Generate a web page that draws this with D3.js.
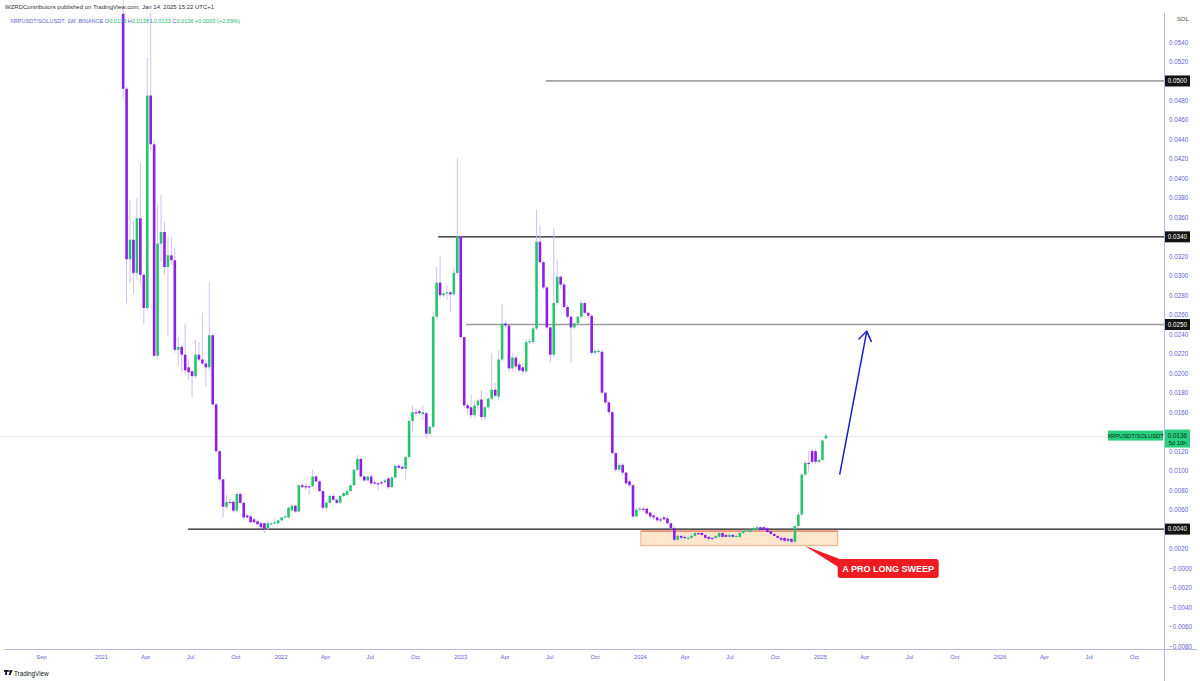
<!DOCTYPE html>
<html><head><meta charset="utf-8">
<script src="https://cdn.jsdelivr.net/npm/d3@7"></script>
<style>body{margin:0;background:#fff;}svg{display:block;font-family:"Liberation Sans",Arial,sans-serif;}</style>
</head><body><svg id="c" width="1200" height="681"></svg>
<script>
// ---- DATA (weekly candles XRPUSDT/SOLUSDT, last bar week of 2025-01-13) ----
const lastBar = "2025-01-13";
const opens = [
.0569,.0492,.0317,.0337,.0303,.0359,.0301,.0267,.0485,.0435,
.0218,.0333,.0345,.0309,.0321,.0316,.0224,.0227,.0219,.0206,
.0202,.0197,.0219,.0214,.0210,.0206,.0239,.0168,.0120,.0091,
.0063,.0068,.0068,.0059,.0076,.0067,.0054,.0053,.0050,.0048,
.0046,.0046,.0041,.0045,.0046,.0046,.0049,.0052,.0052,.0059,
.0064,.0058,.0085,.0084,.0084,.0084,.0094,.0089,.0079,.0062,
.0067,.0074,.0070,.0067,.0074,.0075,.0079,.0085,.0101,.0112,
.0094,.0090,.0094,.0088,.0087,.0088,.0088,.0092,.0083,.0093,
.0105,.0104,.0102,.0114,.0151,.0160,.0161,.0158,.0159,.0138,
.0145,.0258,.0293,.0280,.0282,.0283,.0281,.0303,.0340,.0237,
.0167,.0165,.0157,.0167,.0173,.0155,.0165,.0174,.0183,.0176,
.0214,.0251,.0249,.0205,.0216,.0209,.0206,.0202,.0232,.0232,
.0246,.0335,.0314,.0288,.0247,.0219,.0272,.0299,.0291,.0268,
.0258,.0247,.0251,.0258,.0272,.0262,.0259,.0221,.0222,.0222,
.0180,.0170,.0160,.0118,.0101,.0106,.0098,.0089,.0085,.0053,
.0060,.0061,.0061,.0057,.0054,.0052,.0050,.0052,.0051,.0046,
.0041,.0029,.0033,.0032,.0030,.0031,.0033,.0036,.0036,.0034,
.0032,.0031,.0031,.0032,.0036,.0034,.0032,.0034,.0033,
.0032,.0036,.0038,.0037,.0039,.0039,.0042,.0042,.0041,.0038,
.0035,.0033,.0031,.0031,.0030,.0030,.0027,.0043,.0055,.0096,
.0108,.0120,.0120,.0109,.0111,.0133];
const highs = [
.0586,.0494,.0378,.0357,.0380,.0416,.0303,.0524,.0570,.0440,
.0374,.0383,.0355,.0340,.0340,.0329,.0237,.0229,.0251,.0214,
.0203,.0234,.0232,.0262,.0214,.0293,.0241,.0170,.0121,.0092,
.0075,.0071,.0070,.0078,.0078,.0068,.0056,.0055,.0052,.0050,
.0048,.0047,.0048,.0047,.0051,.0050,.0053,.0055,.0063,.0066,
.0065,.0086,.0087,.0088,.0085,.0101,.0096,.0090,.0080,.0068,
.0075,.0076,.0072,.0075,.0078,.0081,.0086,.0102,.0116,.0113,
.0095,.0095,.0096,.0090,.0089,.0090,.0092,.0094,.0095,.0106,
.0107,.0106,.0115,.0154,.0167,.0164,.0163,.0167,.0161,.0146,
.0263,.0309,.0320,.0284,.0290,.0285,.0308,.0421,.0341,.0238,
.0169,.0178,.0172,.0174,.0183,.0167,.0175,.0221,.0190,.0224,
.0271,.0254,.0250,.0220,.0219,.0212,.0210,.0235,.0236,.0248,
.0368,.0352,.0316,.0290,.0249,.0349,.0316,.0301,.0293,.0270,
.0260,.0252,.0259,.0275,.0274,.0263,.0261,.0225,.0225,.0224,
.0181,.0172,.0162,.0119,.0108,.0108,.0099,.0091,.0086,.0062,
.0063,.0063,.0062,.0058,.0055,.0053,.0052,.0054,.0053,.0047,
.0043,.0034,.0034,.0034,.0033,.0035,.0037,.0037,.0037,.0035,
.0033,.0032,.0034,.0037,.0037,.0035,.0035,.0035,.0034,
.0037,.0039,.0040,.0040,.0042,.0043,.0043,.0043,.0042,.0039,
.0036,.0034,.0032,.0032,.0031,.0031,.0044,.0058,.0098,.0110,
.0120,.0122,.0122,.0112,.0132,.0138];
const lows = [
.0480,.0272,.0293,.0282,.0296,.0291,.0250,.0264,.0429,.0216,
.0215,.0314,.0301,.0239,.0311,.0221,.0208,.0201,.0198,.0193,
.0175,.0195,.0212,.0208,.0186,.0203,.0166,.0118,.0089,.0052,
.0061,.0065,.0057,.0057,.0065,.0050,.0051,.0046,.0046,.0044,
.0041,.0036,.0039,.0044,.0045,.0045,.0048,.0051,.0051,.0058,
.0057,.0057,.0082,.0080,.0075,.0083,.0088,.0078,.0060,.0060,
.0066,.0069,.0066,.0066,.0073,.0074,.0078,.0084,.0100,.0092,
.0088,.0089,.0085,.0085,.0080,.0085,.0087,.0081,.0082,.0092,
.0102,.0101,.0091,.0112,.0140,.0156,.0157,.0152,.0133,.0136,
.0143,.0255,.0277,.0278,.0275,.0263,.0279,.0301,.0235,.0164,
.0158,.0154,.0155,.0162,.0152,.0152,.0163,.0172,.0175,.0172,
.0212,.0246,.0201,.0202,.0204,.0201,.0198,.0200,.0230,.0230,
.0244,.0312,.0286,.0245,.0211,.0216,.0270,.0287,.0267,.0256,
.0211,.0245,.0249,.0256,.0260,.0256,.0219,.0219,.0220,.0178,
.0168,.0158,.0116,.0098,.0099,.0095,.0085,.0083,.0051,.0052,
.0058,.0058,.0055,.0051,.0049,.0047,.0047,.0049,.0044,.0040,
.0027,.0028,.0029,.0029,.0029,.0030,.0032,.0034,.0032,.0030,
.0028,.0029,.0030,.0031,.0031,.0031,.0031,.0031,.0032,
.0031,.0035,.0037,.0036,.0038,.0038,.0038,.0038,.0036,.0034,
.0032,.0030,.0027,.0026,.0026,.0025,.0026,.0041,.0053,.0094,
.0099,.0107,.0107,.0108,.0110,.0133];
const closes = [
.0492,.0317,.0337,.0303,.0359,.0301,.0267,.0485,.0435,.0218,
.0333,.0345,.0309,.0321,.0316,.0224,.0227,.0219,.0203,.0201,
.0197,.0219,.0214,.0210,.0206,.0239,.0168,.0120,.0091,.0063,
.0068,.0067,.0059,.0076,.0067,.0052,.0052,.0047,.0047,.0045,
.0042,.0040,.0046,.0046,.0047,.0049,.0052,.0053,.0062,.0064,
.0058,.0085,.0083,.0083,.0083,.0094,.0089,.0079,.0062,.0067,
.0074,.0070,.0067,.0074,.0077,.0079,.0085,.0101,.0112,.0094,
.0090,.0094,.0087,.0087,.0086,.0087,.0090,.0083,.0093,.0105,
.0103,.0102,.0114,.0151,.0160,.0159,.0159,.0160,.0138,.0145,
.0258,.0293,.0280,.0282,.0283,.0281,.0303,.0340,.0237,.0167,
.0164,.0157,.0167,.0172,.0155,.0165,.0174,.0183,.0177,.0214,
.0251,.0249,.0205,.0216,.0207,.0203,.0202,.0232,.0233,.0246,
.0335,.0314,.0288,.0247,.0219,.0272,.0299,.0291,.0268,.0258,
.0247,.0251,.0258,.0272,.0262,.0259,.0221,.0223,.0223,.0180,
.0170,.0160,.0118,.0101,.0106,.0098,.0087,.0085,.0053,.0060,
.0061,.0060,.0056,.0053,.0052,.0049,.0049,.0050,.0046,.0041,
.0029,.0033,.0031,.0031,.0031,.0033,.0036,.0035,.0034,.0031,
.0030,.0030,.0033,.0036,.0032,.0032,.0034,.0032,.0033,
.0036,.0038,.0039,.0039,.0041,.0042,.0039,.0039,.0037,.0035,
.0033,.0031,.0029,.0028,.0028,.0027,.0043,.0055,.0096,.0108,
.0107,.0109,.0109,.0111,.0131,.0136];

const yTicks = [0.054,0.052,0.050,0.048,0.046,0.044,0.042,0.040,0.038,0.036,0.034,0.032,0.030,0.028,0.026,0.024,0.022,0.020,0.018,0.016,0.014,0.012,0.010,0.008,0.006,0.004,0.002,0,-0.002,-0.004,-0.006,-0.008];
const xTickDates = ["2020-09-01","2021-01-01","2021-04-01","2021-07-01","2021-10-01","2022-01-01","2022-04-01","2022-07-01","2022-10-01","2023-01-01","2023-04-01","2023-07-01","2023-10-01","2024-01-01","2024-04-01","2024-07-01","2024-10-01","2025-01-01","2025-04-01","2025-07-01","2025-10-01","2026-01-01","2026-04-01","2026-07-01","2026-10-01"];
const xTickLabels = ["Sep","2021","Apr","Jul","Oct","2022","Apr","Jul","Oct","2023","Apr","Jul","Oct","2024","Apr","Jul","Oct","2025","Apr","Jul","Oct","2026","Apr","Jul","Oct"];

// horizontal levels drawn on chart
const levelPrices = [0.0500, 0.0340, 0.0250, 0.0040];
const levelStarts = ["2023-06-24","2022-11-17","2023-01-13","2021-06-27"];
const lastPrice = 0.0136;
const zoneDates = ["2024-01-03","2025-02-06"];
const zonePrices = [0.0038, 0.0023];
const arrowDates = ["2025-02-10","2025-04-06"];
const arrowPrices = [0.0096, 0.0243];
const calloutTip = {date:"2024-12-01", price:0.0023};
const calloutBox = {date:"2025-02-06", price:0.00093};
const calloutText = "A PRO LONG SWEEP";

// ---- DRAWING ----
const svg = d3.select("#c");
const pd = s => { const [a,b,c]=s.split("-").map(Number); return new Date(a,b-1,c); };
const x = d3.scaleTime().domain([pd("2021-01-01"), pd("2025-01-01")]).range([101, 820]);
const y = d3.scaleLinear().domain([0.054, -0.008]).range([42, 646]);
const n = opens.length;
const last = pd(lastBar);
const dates = d3.range(n).map(i => d3.timeDay.offset(last, -(n-1-i)*7));

const PURPLE = "#8c1ee6", GREEN = "#25c46e", WICK = "#cbb8f0";
const AXC = "#5f5fd2", AXLINE = "#b9b9ea";
const plotR = 1164;

// last price faint line
svg.append("line").attr("x1",0).attr("x2",plotR).attr("y1",Math.round(y(lastPrice))+0.5).attr("y2",Math.round(y(lastPrice))+0.5)
  .attr("stroke","#e4e4ea").attr("stroke-width",1);

// levels
const lvlColor = ["#5a5a5a","#1a1a1a","#9a9a9a","#1a1a1a"];
const lvlW = [1,1.2,1.5,1.2];
levelPrices.forEach((p,i)=>{
  svg.append("line").attr("x1",x(pd(levelStarts[i]))).attr("x2",plotR)
    .attr("y1",y(p)).attr("y2",y(p)).attr("stroke",lvlColor[i]).attr("stroke-width",lvlW[i]);
});

// zone box
const zx0 = x(pd(zoneDates[0])), zx1 = x(pd(zoneDates[1]));
svg.append("rect").attr("x",zx0).attr("y",y(zonePrices[0])).attr("width",zx1-zx0).attr("height",y(zonePrices[1])-y(zonePrices[0]))
  .attr("fill","#fde2c3").attr("fill-opacity",0.85).attr("stroke","#f0aa82").attr("stroke-width",1);
svg.append("line").attr("x1",zx0).attr("x2",zx1).attr("y1",y(zonePrices[0])).attr("y2",y(zonePrices[0]))
  .attr("stroke","#e06a5a").attr("stroke-width",1);

// candles
const cg = svg.append("g");
const bw = 2.6;
cg.selectAll("line").data(d3.range(n)).join("line")
  .attr("x1",i=>x(dates[i])).attr("x2",i=>x(dates[i]))
  .attr("y1",i=>y(highs[i])).attr("y2",i=>y(lows[i]))
  .attr("stroke",WICK).attr("stroke-width",0.9);
cg.selectAll("rect").data(d3.range(n)).join("rect")
  .attr("x",i=>x(dates[i])-bw/2)
  .attr("y",i=>y(Math.max(opens[i],closes[i])))
  .attr("width",bw)
  .attr("height",i=>Math.max(1.2,Math.abs(y(opens[i])-y(closes[i]))))
  .attr("fill",i=>closes[i]>=opens[i]?GREEN:PURPLE);

// arrow
const ax0=x(pd(arrowDates[0])), ay0=y(arrowPrices[0]), ax1=x(pd(arrowDates[1])), ay1=y(arrowPrices[1]);
const BLUE="#1d1dc9";
svg.append("line").attr("x1",ax0).attr("y1",ay0).attr("x2",ax1).attr("y2",ay1).attr("stroke",BLUE).attr("stroke-width",1.5);
{
  const dx=ax0-ax1, dy=ay0-ay1, L=Math.hypot(dx,dy), ux=dx/L, uy=dy/L, th=35*Math.PI/180, len=11;
  [th,-th].forEach(t=>{
    const rx=ux*Math.cos(t)-uy*Math.sin(t), ry=ux*Math.sin(t)+uy*Math.cos(t);
    svg.append("line").attr("x1",ax1).attr("y1",ay1).attr("x2",ax1+rx*len).attr("y2",ay1+ry*len)
      .attr("stroke",BLUE).attr("stroke-width",1.5).attr("stroke-linecap","round");
  });
}

// callout
const RED="#ef1b22";
const bx=x(pd(calloutBox.date)), by=y(calloutBox.price), bwid=101, bh=19;
const tx=x(pd(calloutTip.date)), ty=y(calloutTip.price);
svg.append("path").attr("d",`M${tx},${ty}L${bx+2},${by}L${bx+2},${by+9}Z`).attr("fill",RED);
svg.append("rect").attr("x",bx).attr("y",by).attr("width",bwid).attr("height",bh).attr("rx",3).attr("fill",RED);
svg.append("text").attr("x",bx+bwid/2).attr("y",by+bh/2+3.2).attr("text-anchor","middle")
  .attr("fill","#fff").attr("font-size",9).attr("font-weight","bold").text(calloutText);

// axes lines
svg.append("line").attr("x1",plotR+0.5).attr("x2",plotR+0.5).attr("y1",13).attr("y2",681).attr("stroke",AXLINE);
svg.append("line").attr("x1",5).attr("x2",1197).attr("y1",649.5).attr("y2",649.5).attr("stroke",AXLINE);

// y axis (ticks hidden behind the highlighted price labels are not drawn, as in the reference)
const covered = levelPrices.concat([0.014]);
const shownTicks = yTicks.filter(t => !covered.some(c => Math.abs(c - t) < 1e-9));
const fmt = v => (v<=0?"\u2212":"") + Math.abs(v).toFixed(4);
const ya = svg.append("g").attr("transform",`translate(${plotR},0)`)
  .call(d3.axisRight(y).tickValues(shownTicks).tickSize(0).tickPadding(5).tickFormat(fmt));
ya.select(".domain").remove();
ya.selectAll("text").attr("fill",AXC).attr("font-size",6.3).attr("font-family","Liberation Sans, Arial, sans-serif");
svg.append("text").attr("x",1177).attr("y",21).attr("fill","#444").attr("font-size",5.8).text("SOL");

// x axis
const xa = svg.append("g").attr("transform","translate(0,650)")
  .call(d3.axisBottom(x).tickValues(xTickDates.map(pd)).tickSize(0).tickPadding(5).tickFormat((d,i)=>xTickLabels[i]));
xa.select(".domain").remove();
xa.selectAll("text").attr("fill",AXC).attr("font-size",5.8).attr("font-family","Liberation Sans, Arial, sans-serif");

// level price labels
levelPrices.forEach(p=>{
  const yy=y(p);
  svg.append("rect").attr("x",plotR+1).attr("y",yy-5.5).attr("width",25).attr("height",11).attr("fill","#131313");
  svg.append("text").attr("x",plotR+13.5).attr("y",yy+2.2).attr("text-anchor","middle").attr("fill","#fff").attr("font-size",6.3).text(p.toFixed(4));
});

// last price labels
const LG="#28d07d";
const ly=y(lastPrice);
svg.append("rect").attr("x",1108).attr("y",ly-5).attr("width",55).attr("height",10).attr("fill",LG);
svg.append("text").attr("x",1135.5).attr("y",ly+2).attr("text-anchor","middle").attr("fill","#0d2a1a").attr("font-size",5.8).text("XRPUSDT/SOLUSDT");
svg.append("rect").attr("x",plotR+1).attr("y",ly-6).attr("width",25).attr("height",18).attr("fill",LG);
svg.append("text").attr("x",plotR+13.5).attr("y",ly+2.2).attr("text-anchor","middle").attr("fill","#0d2a1a").attr("font-size",6.3).text(lastPrice.toFixed(4));
svg.append("text").attr("x",plotR+13.5).attr("y",ly+9.5).attr("text-anchor","middle").attr("fill","#0d2a1a").attr("font-size",5.8).text("5d 10h");

// header
svg.append("text").attr("x",5).attr("y",9).attr("fill","#333").attr("font-size",6).text("WZRDContributors published on TradingView.com, Jan 14, 2025 15:22 UTC+1");
const h2 = svg.append("text").attr("x",10).attr("y",23).attr("font-size",5.6);
h2.append("tspan").attr("fill",AXC).text("XRPUSDT/SOLUSDT, 1W, BINANCE  ");
const oh = [["O",opens[n-1]],["H",highs[n-1]],["L",lows[n-1]],["C",closes[n-1]]];
oh.forEach(([k,v])=>{ h2.append("tspan").attr("fill",AXC).text(k); h2.append("tspan").attr("fill","#22b573").text(v.toFixed(4)+"  "); });
h2.append("tspan").attr("fill","#22b573").text("+0.0003 (+2.59%)");

// TradingView logo
const lg = svg.append("g").attr("fill","#131722");
lg.append("rect").attr("x",4).attr("y",670).attr("width",4).attr("height",1.8);
lg.append("rect").attr("x",5.2).attr("y",670).attr("width",1.8).attr("height",5);
lg.append("circle").attr("cx",9).attr("cy",671).attr("r",0.9);
lg.append("path").attr("d","M10.5,670 L12.6,670 L10.6,675 L8.6,675 Z");
svg.append("text").attr("x",14).attr("y",675.5).attr("fill","#131722").attr("font-size",6.3).text("TradingView");
</script></body></html>
